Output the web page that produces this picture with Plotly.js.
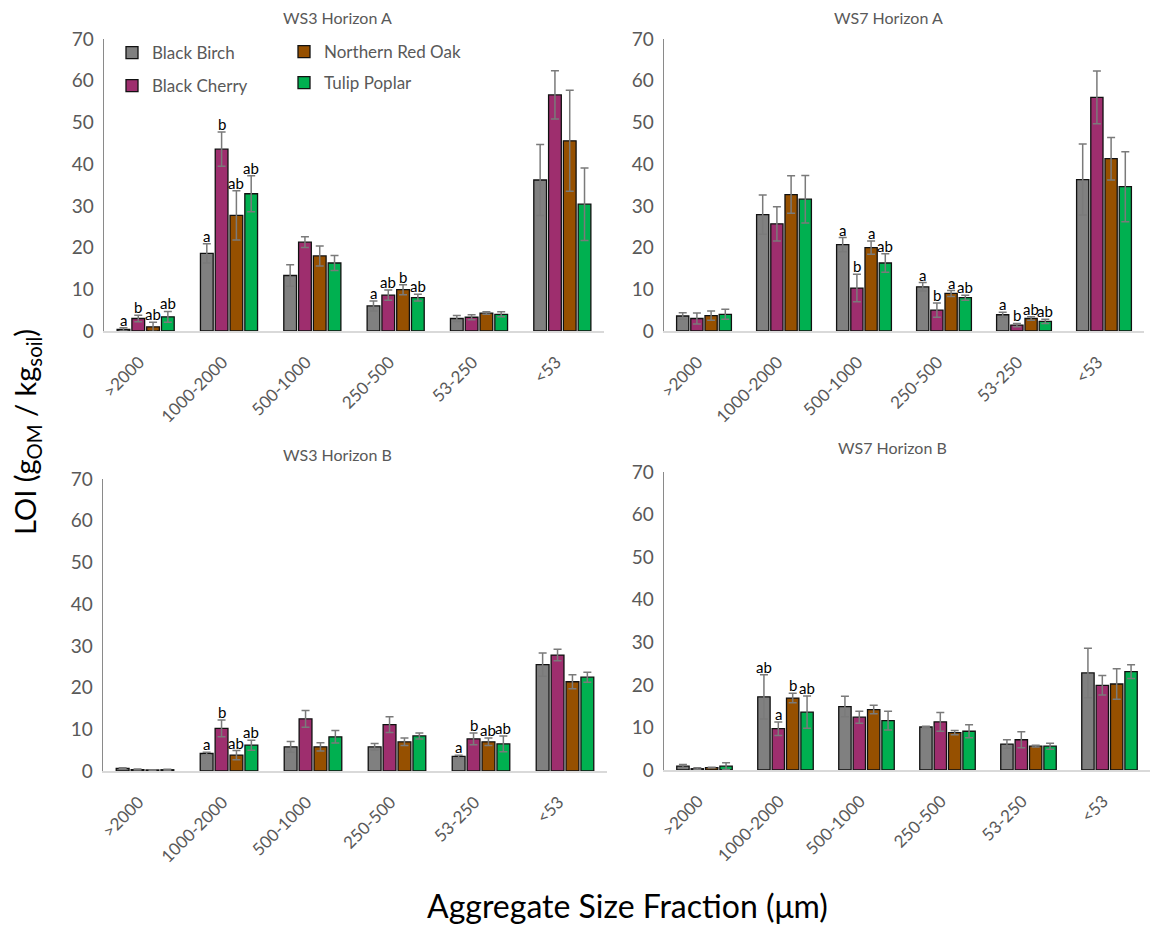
<!DOCTYPE html>
<html>
<head>
<meta charset="utf-8">
<script src="https://cdn.plot.ly/plotly-3.0.1.min.js"></script>
<style>html,body{margin:0;padding:0;background:#fff;}#chart{width:1165px;height:925px;}</style>
</head>
<body>
<div id="chart"></div>
<script>
// ---------- DATA ----------
const categories = ['>2000', '1000-2000', '500-1000', '250-500', '53-250', '<53'];
const seriesNames = ['Black Birch', 'Black Cherry', 'Northern Red Oak', 'Tulip Poplar'];
const panelTitles = ['WS3 Horizon A', 'WS7 Horizon A', 'WS3 Horizon B', 'WS7 Horizon B'];

// WS3 Horizon A
const ws3A_birch  = [0.4, 18.6, 13.3, 6.0, 3.0, 36.2];
const ws3A_cherry = [3.0, 43.6, 21.3, 8.6, 3.3, 56.6];
const ws3A_oak    = [1.0, 27.7, 18.0, 9.9, 4.3, 45.6];
const ws3A_poplar = [3.4, 32.9, 16.3, 8.0, 4.0, 30.4];
const ws3A_birch_err  = [0.4, 2.3, 2.6, 1.2, 0.7, 8.5];
const ws3A_cherry_err = [0.8, 4.1, 1.3, 1.2, 0.6, 5.8];
const ws3A_oak_err    = [1.1, 5.9, 2.4, 1.2, 0.3, 12.1];
const ws3A_poplar_err = [1.3, 4.3, 1.8, 0.8, 0.6, 8.7];
const ws3A_birch_let  = ['a', 'a', '', 'a', '', ''];
const ws3A_cherry_let = ['b', 'b', '', 'ab', '', ''];
const ws3A_oak_let    = ['ab', 'ab', '', 'b', '', ''];
const ws3A_poplar_let = ['ab', 'ab', '', 'ab', '', ''];

// WS7 Horizon A
const ws7A_birch  = [3.6, 27.9, 20.7, 10.6, 3.9, 36.3];
const ws7A_cherry = [3.0, 25.7, 10.3, 5.0, 1.4, 56.0];
const ws7A_oak    = [3.7, 32.7, 20.0, 9.0, 3.0, 41.3];
const ws7A_poplar = [4.0, 31.6, 16.3, 8.0, 2.3, 34.6];
const ws7A_birch_err  = [0.8, 4.7, 1.7, 1.0, 0.6, 8.5];
const ws7A_cherry_err = [1.3, 4.1, 3.3, 1.7, 0.4, 6.3];
const ws7A_oak_err    = [1.1, 4.5, 1.6, 0.7, 0.4, 5.1];
const ws7A_poplar_err = [1.2, 5.7, 2.2, 0.6, 0.5, 8.4];
const ws7A_birch_let  = ['', '', 'a', 'a', 'a', ''];
const ws7A_cherry_let = ['', '', 'b', 'b', 'b', ''];
const ws7A_oak_let    = ['', '', 'a', 'a', 'ab', ''];
const ws7A_poplar_let = ['', '', 'ab', 'ab', 'ab', ''];

// WS3 Horizon B
const ws3B_birch  = [0.6, 4.2, 5.8, 5.8, 3.5, 25.5];
const ws3B_cherry = [0.35, 10.2, 12.5, 11.1, 7.7, 27.8];
const ws3B_oak    = [0.25, 3.8, 5.8, 7.0, 7.0, 21.4];
const ws3B_poplar = [0.3, 6.2, 8.2, 8.4, 6.5, 22.5];
const ws3B_birch_err  = [0.2, 0.3, 1.3, 0.8, 0.3, 2.8];
const ws3B_cherry_err = [0.1, 2.0, 2.0, 1.9, 1.4, 1.4];
const ws3B_oak_err    = [0.05, 1.1, 1.0, 0.9, 0.9, 1.7];
const ws3B_poplar_err = [0.1, 1.2, 1.5, 0.7, 1.9, 1.2];
const ws3B_birch_let  = ['', 'a', '', '', 'a', ''];
const ws3B_cherry_let = ['', 'b', '', '', 'b', ''];
const ws3B_oak_let    = ['', 'ab', '', '', 'ab', ''];
const ws3B_poplar_let = ['', 'ab', '', '', 'ab', ''];

// WS7 Horizon B
const ws7B_birch  = [0.9, 17.2, 14.9, 10.1, 6.1, 22.8];
const ws7B_cherry = [0.3, 9.7, 12.4, 11.3, 7.1, 19.9];
const ws7B_oak    = [0.55, 16.9, 14.2, 8.8, 5.6, 20.2];
const ws7B_poplar = [0.9, 13.6, 11.6, 9.1, 5.6, 23.1];
const ws7B_birch_err  = [0.4, 5.2, 2.4, 0.2, 1.0, 5.8];
const ws7B_cherry_err = [0.2, 1.6, 1.4, 2.2, 1.9, 2.3];
const ws7B_oak_err    = [0.1, 1.1, 1.0, 0.5, 0.2, 3.6];
const ws7B_poplar_err = [0.8, 3.8, 2.2, 1.5, 0.7, 1.6];
const ws7B_birch_let  = ['', 'ab', '', '', '', ''];
const ws7B_cherry_let = ['', 'a', '', '', '', ''];
const ws7B_oak_let    = ['', 'b', '', '', '', ''];
const ws7B_poplar_let = ['', 'ab', '', '', '', ''];

// ---------- STYLE / LAYOUT CONFIG ----------
const W = 1165, H = 925;
const colors = ['#808080', '#9e2e6e', '#965000', '#00b050'];
const FONT = 'Lato, "Open Sans", sans-serif';
const TXT = '#595959';
const bargap = 0.29, bargroupgap = 0.14;

// pixel boxes of the four plot areas: [left, right, top(70), bottom(0)]
const boxes = [
  [104, 604, 39, 331],
  [664, 1144, 39, 331],
  [103, 607, 479, 771],
  [664, 1150, 472, 770]
];
const titlePos = [[337, 17], [888, 17], [337, 454], [892, 448]];

const panels = [
  {vals: [ws3A_birch, ws3A_cherry, ws3A_oak, ws3A_poplar], errs: [ws3A_birch_err, ws3A_cherry_err, ws3A_oak_err, ws3A_poplar_err], lets: [ws3A_birch_let, ws3A_cherry_let, ws3A_oak_let, ws3A_poplar_let]},
  {vals: [ws7A_birch, ws7A_cherry, ws7A_oak, ws7A_poplar], errs: [ws7A_birch_err, ws7A_cherry_err, ws7A_oak_err, ws7A_poplar_err], lets: [ws7A_birch_let, ws7A_cherry_let, ws7A_oak_let, ws7A_poplar_let]},
  {vals: [ws3B_birch, ws3B_cherry, ws3B_oak, ws3B_poplar], errs: [ws3B_birch_err, ws3B_cherry_err, ws3B_oak_err, ws3B_poplar_err], lets: [ws3B_birch_let, ws3B_cherry_let, ws3B_oak_let, ws3B_poplar_let]},
  {vals: [ws7B_birch, ws7B_cherry, ws7B_oak, ws7B_poplar], errs: [ws7B_birch_err, ws7B_cherry_err, ws7B_oak_err, ws7B_poplar_err], lets: [ws7B_birch_let, ws7B_cherry_let, ws7B_oak_let, ws7B_poplar_let]}
];

const esc = s => s.replace(/</g, '&lt;').replace(/>/g, '&gt;') + '&nbsp;&nbsp;';
const legendRank = [1, 3, 2, 4];
const legendFor = ['legend', 'legend', 'legend2', 'legend2'];

const traces = [];
const annotations = [];
const layout = {
  width: W, height: H,
  margin: {l: 0, r: 0, t: 0, b: 0},
  paper_bgcolor: '#ffffff', plot_bgcolor: 'rgba(0,0,0,0)',
  barmode: 'group', bargap: bargap, bargroupgap: bargroupgap,
  font: {family: FONT, color: TXT},
  showlegend: true,
  legend: {x: 112 / W, xanchor: 'left', y: 1 - 35 / H, yanchor: 'top', orientation: 'v',
           font: {family: FONT, size: 17, color: TXT}, tracegroupgap: 8, bgcolor: 'rgba(0,0,0,0)', itemwidth: 30},
  legend2: {x: 284 / W, xanchor: 'left', y: 1 - 34 / H, yanchor: 'top', orientation: 'v',
           font: {family: FONT, size: 17, color: TXT}, tracegroupgap: 6, bgcolor: 'rgba(0,0,0,0)', itemwidth: 30},
  annotations: annotations
};

panels.forEach((p, k) => {
  const sfx = k === 0 ? '' : String(k + 1);
  const xa = 'x' + sfx, ya = 'y' + sfx;
  const b = boxes[k];
  layout['xaxis' + sfx] = {
    domain: [b[0] / W, b[1] / W], anchor: ya, type: 'category',
    tickvals: categories, ticktext: categories.map(esc),
    tickangle: -45, tickfont: {family: FONT, size: 17, color: TXT},
    showline: true, linecolor: '#d9d9d9', linewidth: 1.5, ticklabelstandoff: 7,
    showgrid: false, zeroline: false, ticks: '', fixedrange: true
  };
  layout['yaxis' + sfx] = {
    domain: [1 - b[3] / H, 1 - b[2] / H], anchor: xa, range: [0, 70],
    tickvals: [0, 10, 20, 30, 40, 50, 60, 70],
    tickfont: {family: FONT, size: 19, color: TXT},
    showline: true, linecolor: '#8a8a8a', linewidth: 1.5,
    showgrid: false, zeroline: false, ticks: '', ticklabelstandoff: 5, fixedrange: true
  };
  const spacing = (b[1] - b[0]) / categories.length;
  const slot = spacing * (1 - bargap) / 4;
  p.vals.forEach((v, i) => {
    traces.push({
      type: 'bar', x: categories, y: v, name: seriesNames[i],
      xaxis: xa, yaxis: ya,
      marker: {color: colors[i], line: {color: '#111111', width: 1.3}},
      error_y: {type: 'data', array: p.errs[i], visible: true, color: '#7a7a7a', thickness: 1.5, width: 4},
      showlegend: k === 0, legend: legendFor[i], legendrank: legendRank[i], legendgroup: 'g' + i,
      hoverinfo: 'skip'
    });
    p.lets[i].forEach((t, j) => {
      if (!t) return;
      annotations.push({
        xref: xa, yref: ya, x: categories[j], y: v[j] + p.errs[i][j],
        xshift: (i - 1.5) * slot, yshift: -3, yanchor: 'bottom', xanchor: 'center',
        text: t, showarrow: false, font: {family: FONT, size: 15, color: '#000000'}
      });
    });
  });
  annotations.push({
    xref: 'paper', yref: 'paper', x: titlePos[k][0] / W, y: 1 - titlePos[k][1] / H,
    xanchor: 'center', yanchor: 'middle', text: panelTitles[k], showarrow: false,
    font: {family: FONT, size: 16, color: TXT}
  });
});

annotations.push({
  xref: 'paper', yref: 'paper', x: 26 / W, y: 1 - 432 / H, xanchor: 'center', yanchor: 'middle',
  textangle: -90, text: 'LOI (g<sub>OM</sub> / kg<sub>soil</sub>)', showarrow: false,
  font: {family: FONT, size: 29, color: '#000000'}
});
annotations.push({
  xref: 'paper', yref: 'paper', x: 627 / W, y: 1 - 905 / H, xanchor: 'center', yanchor: 'middle',
  text: 'Aggregate Size Fraction (μm)', showarrow: false,
  font: {family: FONT, size: 32, color: '#000000'}
});

Plotly.newPlot('chart', traces, layout, {displayModeBar: false, staticPlot: true});
</script>
</body>
</html>
